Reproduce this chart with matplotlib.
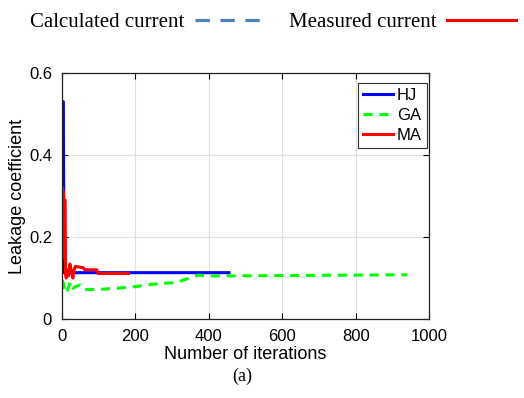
import matplotlib
matplotlib.use("Agg")
import matplotlib.pyplot as plt
from matplotlib.lines import Line2D

# data
hj_x = [1, 2, 4, 6, 455]
hj_y = [0.27, 0.53, 0.53, 0.113, 0.113]

ga_x = [1, 5, 10, 14, 18, 22, 26, 30, 40, 50, 60, 100, 150, 200, 250, 310, 345, 370, 400, 600, 800, 940]
ga_y = [0.095, 0.085, 0.063, 0.068, 0.075, 0.09, 0.085, 0.075, 0.08, 0.083, 0.072, 0.072, 0.075,
        0.079, 0.085, 0.089, 0.099, 0.107, 0.105, 0.106, 0.107, 0.108]

ma_x = [1, 2, 3, 4, 5, 7, 9, 10, 12, 15, 18, 22, 26, 30, 33, 36, 45, 58, 63, 95, 99, 181]
ma_y = [0.15, 0.32, 0.22, 0.31, 0.18, 0.29, 0.29, 0.11, 0.10, 0.12, 0.105, 0.134, 0.115, 0.10,
        0.118, 0.128, 0.127, 0.125, 0.12, 0.12, 0.111, 0.111]

x_ticks = [0, 200, 400, 600, 800, 1000]
y_ticks = [0, 0.2, 0.4, 0.6]
y_labels = ["0", "0.2", "0.4", "0.6"]

plt.rcParams['font.family'] = ['Liberation Sans', 'DejaVu Sans']

fig = plt.figure(figsize=(5.24, 3.98), dpi=100)
ax = fig.add_axes([0.118, 0.1985, 0.701, 0.618])

ax.plot(hj_x, hj_y, color='#0000ff', lw=2.2, label='HJ')
ax.plot(ga_x, ga_y, color='#00ff00', lw=2.2, dashes=(3, 2.2), label='GA')
ax.plot(ma_x, ma_y, color='#ff0000', lw=2.2, label='MA')

ax.set_xlim(0, 1000)
ax.set_ylim(0, 0.6)
ax.set_xticks(x_ticks)
ax.set_yticks(y_ticks)
ax.set_yticklabels(y_labels)
ax.tick_params(direction='in', length=4, top=True, right=True, labelsize=12, width=0.8, pad=7)
ax.grid(True, color='#e0e0e0', lw=0.8)
ax.set_axisbelow(True)
for s in ax.spines.values():
    s.set_linewidth(0.9)
    s.set_color('#222222')

ax.set_xlabel('Number of iterations', fontsize=13, labelpad=2)
ax.set_ylabel('Leakage coefficient', fontsize=13, labelpad=2)

leg = ax.legend(loc='upper right', bbox_to_anchor=(0.994, 0.96), fontsize=12, handlelength=1.8,
                borderaxespad=0, fancybox=False, edgecolor='#333333', framealpha=1,
                labelspacing=0.3, handletextpad=0.25, borderpad=0.3)
leg.get_frame().set_linewidth(0.8)

# top legend
handles = [Line2D([], [], color='#4f81bd', lw=2.3, dashes=(4.5, 3.3)),
           Line2D([], [], color='#ff0000', lw=2.2)]
fig.legend(handles, ['Calculated current', 'Measured current'], loc='upper left',
           bbox_to_anchor=(0.022, 1.015), ncol=2, markerfirst=False, frameon=False,
           handlelength=3.3, columnspacing=1.2, handletextpad=0.5,
           prop={'family': 'Liberation Serif', 'size': 15})

fig.text(0.462, 0.055, '(a)', ha='center', va='center', fontsize=13, family='Liberation Serif')

fig.savefig('out.png', dpi=100)
